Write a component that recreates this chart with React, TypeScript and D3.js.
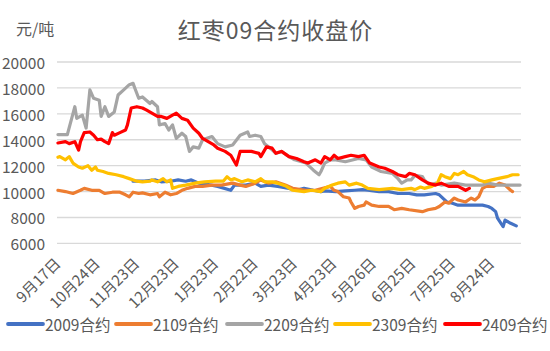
import React from "react";
import * as d3 from "d3";

const N_DAYS = 247;
const TICK_EVERY = 21;
const xTickLabels = ["9月17日","10月24日","11月23日","12月23日","1月23日","2月22日","3月23日","4月23日","5月26日","6月25日","7月25日","8月24日"];
const yTicks = [6000, 8000, 10000, 12000, 14000, 16000, 18000, 20000];

// [trading-day index, close price]
const s2009: [number, number][] = [[40,10800],[46,10800],[52,10900],[55,10750],[60,10800],[64,10900],[68,10800],[71,10900],[75,10650],[80,10550],[85,10400],[92,10100],[94,10500],[100,10500],[105,10650],[108,10400],[112,10500],[117,10400],[123,10250],[127,10100],[131,10250],[136,10100],[140,10000],[142,10050],[148,10000],[153,10050],[158,10100],[162,10150],[165,10100],[171,10000],[176,10000],[181,9850],[187,9850],[191,9750],[195,9750],[201,9850],[203,9750],[207,9200],[210,9100],[213,8950],[218,8950],[226,8950],[229,8850],[231,8700],[233,8450],[234,7950],[237,7300],[238,7800],[241,7550],[244,7350]];
const s2109: [number, number][] = [[0,10100],[4,10000],[8,9850],[12,10100],[14,10250],[18,10100],[22,10100],[25,9850],[29,9950],[33,9950],[36,9750],[38,9600],[40,9950],[43,9850],[45,9900],[49,9750],[53,9850],[54,9600],[57,9950],[60,9750],[63,9850],[66,10100],[69,10250],[73,10400],[77,10400],[82,10500],[87,10500],[93,10650],[97,10500],[100,10400],[105,10650],[108,10900],[112,10650],[116,10750],[121,10500],[125,10250],[132,10100],[137,10100],[141,10250],[145,10400],[147,10100],[149,10000],[152,9600],[155,9500],[156,9200],[158,8700],[160,8850],[163,8950],[164,9200],[167,8950],[171,8850],[176,8850],[179,8600],[183,8700],[187,8600],[194,8450],[197,8600],[201,8700],[203,8850],[206,9200],[208,9100],[211,9500],[213,9350],[217,9200],[220,9500],[222,9350],[224,9600],[226,10250],[228,10400],[232,10400],[235,10650],[238,10500],[241,10100],[242,10000]];
const s2209: [number, number][] = [[0,14400],[5,14400],[9,16550],[10,15650],[13,15900],[15,14900],[17,17850],[19,17200],[22,17050],[23,15800],[25,16550],[27,15800],[30,16150],[32,17450],[35,17850],[38,18250],[40,18350],[41,17950],[43,17200],[45,17300],[47,17050],[49,16800],[50,16950],[53,16550],[54,15150],[57,15250],[59,14750],[61,15150],[63,14100],[66,14500],[68,14250],[70,13100],[72,13450],[75,13350],[77,14000],[82,14250],[85,13700],[89,13450],[93,13600],[97,14350],[101,14600],[102,14250],[105,14350],[108,14250],[110,13700],[113,13350],[116,12950],[119,13100],[123,12700],[126,12450],[132,12200],[136,11650],[139,11300],[140,11550],[142,12200],[145,12450],[148,12450],[153,12300],[160,12550],[164,12450],[167,11900],[172,11550],[178,11400],[181,11000],[183,10650],[186,10900],[188,10900],[190,11250],[194,11150],[195,10900],[198,10500],[201,10650],[204,10500],[211,10650],[217,10500],[226,10500],[229,10650],[234,10500],[246,10500]];
const s2309: [number, number][] = [[0,12650],[1,12700],[4,12450],[6,12700],[8,12200],[11,11900],[13,11800],[16,12000],[18,11650],[20,11900],[21,11650],[24,11550],[27,11400],[31,11300],[35,11150],[38,11000],[42,10800],[45,10750],[49,10800],[50,10900],[53,10750],[56,11000],[58,10750],[60,10900],[61,10250],[64,10400],[68,10500],[73,10650],[78,10750],[84,10800],[88,10800],[90,11150],[92,10900],[94,11000],[98,10750],[101,10900],[105,10750],[108,11000],[110,10750],[114,10750],[117,10650],[121,10450],[125,10100],[131,10000],[135,10100],[140,10000],[142,10250],[146,10500],[149,10650],[153,10750],[155,10500],[159,10650],[162,10500],[165,10250],[171,10150],[178,10250],[183,10150],[188,10250],[190,10150],[193,10350],[195,10250],[199,10400],[202,10650],[204,11300],[206,11150],[209,11000],[211,11400],[213,11300],[216,11550],[218,11300],[221,11150],[224,10900],[227,10750],[231,10900],[234,11000],[239,11150],[242,11300],[245,11300]];
const s2409: [number, number][] = [[0,13750],[4,13850],[6,13700],[9,13850],[11,13200],[12,13850],[14,14550],[17,14600],[19,14350],[21,14000],[23,14050],[25,13850],[27,13700],[29,14550],[30,14350],[33,14550],[36,14750],[37,15150],[39,16450],[42,16550],[45,16450],[47,16300],[50,16050],[53,15800],[55,15800],[58,15650],[61,15900],[63,16050],[66,15650],[69,15500],[72,14900],[75,14500],[77,14100],[80,13850],[83,13600],[85,13350],[89,13100],[92,12800],[95,12050],[97,13100],[103,13100],[107,12950],[108,12700],[111,13450],[114,13350],[116,12950],[119,13100],[123,12700],[127,12550],[131,12300],[133,12200],[137,12450],[140,12200],[142,12700],[145,12450],[147,12800],[149,12550],[153,12700],[156,12800],[160,12700],[163,12800],[166,12200],[171,11900],[174,11800],[178,11550],[181,11300],[185,11150],[187,11400],[190,11300],[194,10900],[197,10650],[201,10500],[204,10650],[208,10400],[213,10400],[217,10100],[219,10250]];

const seriesNames = ["2009合约","2109合约","2209合约","2309合约","2409合约"];
const seriesData = [s2009, s2109, s2209, s2309, s2409];
const seriesColors = ["#4472C4","#ED7D31","#A5A5A5","#FFC000","#FF0000"];

const FONT = "'Noto Sans CJK SC', 'Noto Sans', sans-serif";

export default function App() {
  const W = 550, H = 351;
  const left = 57, right = 521, top = 62, bottom = 243.4;
  const step = (right - left) / N_DAYS;
  const x = d3.scaleLinear().domain([0, N_DAYS - 1]).range([left + step / 2, right - step / 2]);
  const y = d3.scaleLinear().domain([6000, 20000]).range([bottom, top]);
  const line = d3.line<[number, number]>().x(d => x(d[0])).y(d => y(d[1]));
  const tickIdx = xTickLabels.map((_, i) => i * TICK_EVERY);
  const legendX = [8, 116, 227, 335, 445];

  return (
    <svg width={W} height={H} style={{ position: "absolute", left: 0, top: 0, background: "#fff" }} fontFamily={FONT}>
      <rect x={0} y={0} width={W} height={H} fill="#fff" />
      <text x={275.5} y={39} textAnchor="middle" fontSize={23} letterSpacing={1} fill="#595959">红枣09合约收盘价</text>
      <text x={16} y={35} fontSize={16} fill="#595959">元/吨</text>
      {yTicks.map(t => (
        <g key={t}>
          <line x1={left} x2={right} y1={y(t)} y2={y(t)} stroke="#d9d9d9" strokeWidth={1.3} />
          <text x={45} y={y(t)} textAnchor="end" dominantBaseline="central" fontSize={15.5} fill="#595959">{t}</text>
        </g>
      ))}
      {tickIdx.map((d, i) => (
        <text key={i} transform={`translate(${x(d) - 1},${260}) rotate(-45)`} textAnchor="end" dominantBaseline="central" fontSize={15} fill="#595959">{xTickLabels[i]}</text>
      ))}
      {seriesData.map((s, i) => (
        <path key={i} d={line(s) || ""} fill="none" stroke={seriesColors[i]} strokeWidth={3.2} strokeLinejoin="round" strokeLinecap="round" />
      ))}
      {seriesNames.map((n, i) => (
        <g key={n}>
          <line x1={legendX[i]} x2={legendX[i] + 35} y1={324} y2={324} stroke={seriesColors[i]} strokeWidth={3.8} strokeLinecap="round" />
          <text x={legendX[i] + 37} y={324} dominantBaseline="central" fontSize={15.5} fill="#595959">{n}</text>
        </g>
      ))}
    </svg>
  );
}
